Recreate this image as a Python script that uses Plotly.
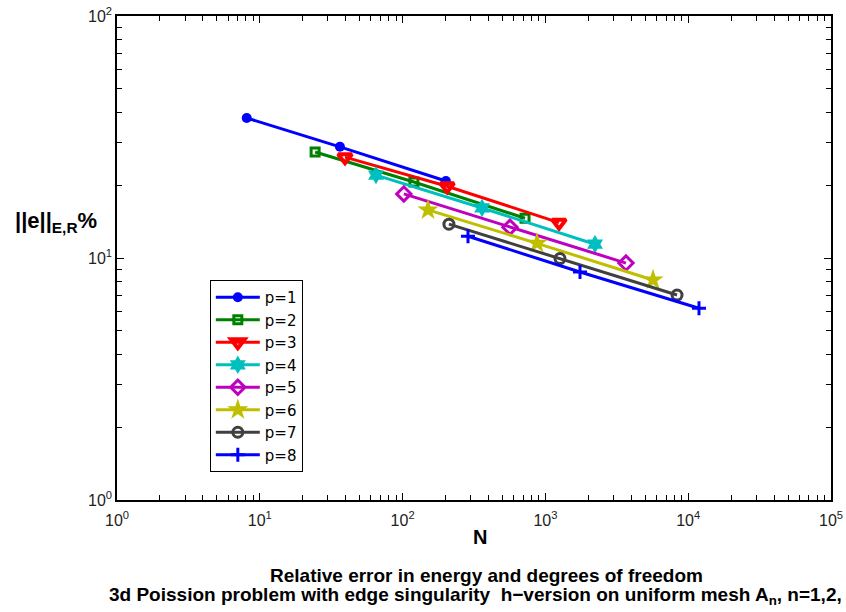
import plotly.graph_objects as go

# Degrees of freedom N and relative energy-norm error (%) for each p
N_p1 = [8.1, 36.4, 201]
E_p1 = [37.9, 28.8, 20.8]
N_p2 = [24.4, 120, 720]
E_p2 = [27.4, 20.6, 14.6]
N_p3 = [39.5, 205, 1245]
E_p3 = [26.1, 19.8, 14.0]
N_p4 = [65.1, 360, 2225]
E_p4 = [22.0, 16.1, 11.4]
N_p5 = [102, 565, 3666]
E_p5 = [18.4, 13.4, 9.53]
N_p6 = [150.6, 873, 5670]
E_p6 = [15.8, 11.5, 8.11]
N_p7 = [211, 1265, 8350]
E_p7 = [13.8, 9.95, 7.03]
N_p8 = [287, 1747, 11900]
E_p8 = [12.3, 8.75, 6.2]

names = ["p=1", "p=2", "p=3", "p=4", "p=5", "p=6", "p=7", "p=8"]
Ns = [N_p1, N_p2, N_p3, N_p4, N_p5, N_p6, N_p7, N_p8]
Es = [E_p1, E_p2, E_p3, E_p4, E_p5, E_p6, E_p7, E_p8]

colors = ["#0000FF", "#008000", "#FF0000", "#00BFBF", "#BF00BF", "#BFBF00", "#404040", "#0000FF"]
symbols = ["circle", "square-open", "triangle-down-open", "hexagram", "diamond-open", "star", "circle-open", "cross-thin-open"]
msizes = [10, 8, 12, 14, 11, 16, 10, 10]
mlw = [0, 3, 4, 0, 3, 0, 3, 3]

x_ticks = [1, 10, 100, 1000, 10000, 100000]
x_ticktext = ["10<sup>0</sup>", "10<sup>1</sup>", "10<sup>2</sup>", "10<sup>3</sup>", "10<sup>4</sup>", "10<sup>5</sup>"]
y_ticks = [1, 10, 100]
y_ticktext = ["10<sup>0</sup>", "10<sup>1</sup>", "10<sup>2</sup>"]

fig = go.Figure()
for n, e, nm, c, s, ms, lw in zip(Ns, Es, names, colors, symbols, msizes, mlw):
    fig.add_trace(go.Scatter(
        x=n, y=e, name=nm, mode="lines+markers",
        line=dict(color=c, width=3),
        marker=dict(symbol=s, size=ms, color=c, line=dict(color=c, width=lw)),
    ))

minor_x = [k * 10 ** d for d in range(0, 5) for k in range(2, 10)]
minor_y = [k * 10 ** d for d in range(0, 2) for k in range(2, 10)]

axis_common = dict(
    type="log", showgrid=False, zeroline=False, showline=True, linecolor="black", linewidth=1.5,
    mirror="allticks", ticks="inside", ticklen=7, tickwidth=1, tickcolor="black", automargin=False,
    tickfont=dict(family="Liberation Sans, Arial", size=16, color="#222"),
)

fig.update_xaxes(range=[0, 5], tickmode="array", tickvals=x_ticks, ticktext=x_ticktext,
                 minor=dict(ticks="inside", ticklen=5, tickvals=minor_x, tickcolor="black"),
                 ticklabelstandoff=5, **axis_common)
fig.update_yaxes(range=[0, 2], tickmode="array", tickvals=y_ticks, ticktext=y_ticktext,
                 minor=dict(ticks="inside", ticklen=5, tickvals=minor_y, tickcolor="black"),
                 **axis_common)

bold = dict(family="Liberation Sans, Arial", color="black")
annotations = [
    dict(text="<b>||e||<sub>E,R</sub>%</b>", xref="paper", yref="paper", x=-0.1457, y=0.575,
         xanchor="left", yanchor="middle", showarrow=False, font=dict(size=22, **bold)),
    dict(text="<b>N</b>", xref="paper", yref="paper", x=0.508, y=-0.0764,
         xanchor="center", yanchor="middle", showarrow=False, font=dict(size=20, **bold)),
    dict(text="<b>Relative error in energy and degrees of freedom</b>", xref="paper", yref="paper",
         x=0.517, y=-0.155, xanchor="center", yanchor="middle", showarrow=False, font=dict(size=19, **bold)),
    dict(text="<b>3d Poission problem with edge singularity  h\u2212version on uniform mesh A<sub>n</sub>, n=1,2,</b>",
         xref="paper", yref="paper", x=-0.014, y=-0.199, xanchor="left", yanchor="middle",
         showarrow=False, font=dict(size=19, **bold)),
]

fig.update_layout(
    width=846, height=612,
    margin=dict(l=117, r=15, t=16, b=112),
    plot_bgcolor="white", paper_bgcolor="white",
    font=dict(family="Liberation Sans, Arial", color="black"),
    showlegend=True,
    legend=dict(x=0.13, y=0.4545, xanchor="left", yanchor="top",
                bordercolor="black", borderwidth=1, bgcolor="white",
                font=dict(family="DejaVu Sans", size=15, color="black"), itemwidth=44),
    annotations=annotations,
)

fig.write_html("out.html", config={"displayModeBar": False},
               post_script="document.body.style.margin='0';")
